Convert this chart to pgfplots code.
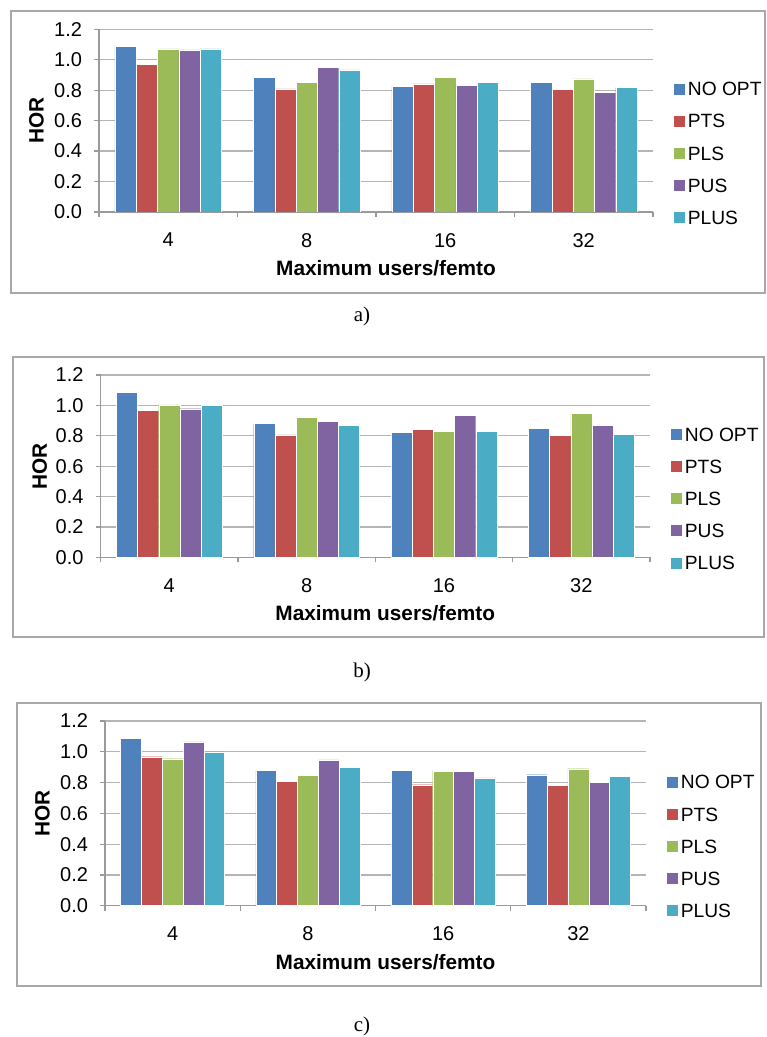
\documentclass[border=0pt]{standalone}
\usepackage{pgfplots}
\usepackage{pgfplotstable}
\pgfplotsset{compat=1.18}
\usepackage{fontspec}
\setmainfont{Liberation Sans}
\newfontfamily\seriffont{Liberation Serif}
\definecolor{c1}{HTML}{4F81BD}
\definecolor{c2}{HTML}{C0504D}
\definecolor{c3}{HTML}{9BBB59}
\definecolor{c4}{HTML}{8064A2}
\definecolor{c5}{HTML}{4BACC6}
\definecolor{gridc}{HTML}{B4B4B4}
\definecolor{axc}{HTML}{9A9A9A}
\definecolor{boxc}{HTML}{A8A8A8}

\pgfplotstableread{
x noopt pts pls pus plus
0 1.088 0.970 1.071 1.064 1.071
1 0.882 0.808 0.852 0.950 0.933
2 0.826 0.841 0.882 0.834 0.852
3 0.850 0.804 0.874 0.786 0.817
}\dataA
\pgfplotstableread{
x noopt pts pls pus plus
0 1.086 0.967 1.003 0.978 0.998
1 0.880 0.805 0.919 0.897 0.869
2 0.823 0.840 0.831 0.935 0.829
3 0.847 0.801 0.946 0.867 0.810
}\dataB
\pgfplotstableread{
x noopt pts pls pus plus
0 1.087 0.968 0.955 1.064 0.999
1 0.879 0.808 0.849 0.947 0.901
2 0.879 0.786 0.875 0.873 0.830
3 0.851 0.784 0.890 0.801 0.840
}\dataC

\pgfplotsset{
  horstyle/.style={
    scale only axis,
    ybar, bar width=0.154,
    ymin=0, ymax=1.2,
    ytick={0,0.2,0.4,0.6,0.8,1.0,1.2},
    y tick label style={/pgf/number format/fixed, /pgf/number format/fixed zerofill, /pgf/number format/precision=1},
    /pgf/number format/assume math mode=true,
    xmin=-0.5, xmax=3.5,
    xtick={-0.5,0.5,1.5,2.5,3.5},
    x tick label as interval,
    xticklabels={4,8,16,32},
    axis x line*=bottom, axis y line*=left,
    axis line style={axc, line width=0.6pt},
    ymajorgrids, grid style={gridc, line width=0.6pt},
    major tick length=2.5pt, tick align=outside,
    tick style={axc, line width=0.6pt},
    ticklabel style={font=\fontsize{10}{12}\selectfont},
    yticklabel style={xshift=-2.5pt},
    xticklabel style={yshift=-4.5pt},
    xlabel={Maximum users/femto},
    ylabel={HOR},
    label style={font=\fontsize{10.4}{12}\selectfont\bfseries},
    xlabel style={at={(axis description cs:0.5,0)}, anchor=center, xshift=5pt, yshift=-28pt},
    legend style={draw=none, fill=none, at={(axis description cs:1,0.322)}, anchor=west, xshift=9.75pt,
      inner sep=0pt, outer sep=0pt, font=\fontsize{9.6}{11}\selectfont, row sep=6.15pt,
      nodes={inner sep=1.5pt, text height=6.9pt, text depth=0pt}},
    legend cell align=left,
    legend image code/.code={\fill[##1] (0pt,-3pt) rectangle (6pt,3pt);},
  },
  barA/.style={fill=c1, draw=white, line width=0.2pt, bar shift=-0.308},
  barB/.style={fill=c2, draw=white, line width=0.2pt, bar shift=-0.154},
  barC/.style={fill=c3, draw=white, line width=0.2pt, bar shift=0},
  barD/.style={fill=c4, draw=white, line width=0.2pt, bar shift=0.154},
  barE/.style={fill=c5, draw=white, line width=0.2pt, bar shift=0.308},
}

\begin{document}
\begin{tikzpicture}
\useasboundingbox (0pt,0pt) rectangle (383pt,518.5pt);
\draw[boxc, line width=0.6pt] (5.5pt,372pt) rectangle (382.5pt,513pt);
\draw[boxc, line width=0.6pt] (6.5pt,200pt) rectangle (382pt,340pt);
\draw[boxc, line width=0.6pt] (8.5pt,25.5pt) rectangle (380.5pt,167pt);

\begin{axis}[horstyle, at={(49.5pt,412.5pt)}, anchor=south west, width=277pt, height=91.35pt,
  ylabel style={at={(axis description cs:-0.113,0.5)}, anchor=center}]
\addplot[barA] table[x=x,y=noopt] {\dataA};
\addplot[barB] table[x=x,y=pts] {\dataA};
\addplot[barC] table[x=x,y=pls] {\dataA};
\addplot[barD] table[x=x,y=pus] {\dataA};
\addplot[barE] table[x=x,y=plus] {\dataA};
\legend{NO OPT,PTS,PLS,PUS,PLUS}
\end{axis}

\begin{axis}[horstyle, at={(50.3pt,239.85pt)}, anchor=south west, width=274.7pt, height=91.15pt,
  ylabel style={at={(axis description cs:-0.111,0.5)}, anchor=center}]
\addplot[barA] table[x=x,y=noopt] {\dataB};
\addplot[barB] table[x=x,y=pts] {\dataB};
\addplot[barC] table[x=x,y=pls] {\dataB};
\addplot[barD] table[x=x,y=pus] {\dataB};
\addplot[barE] table[x=x,y=plus] {\dataB};
\legend{NO OPT,PTS,PLS,PUS,PLUS}
\end{axis}

\begin{axis}[horstyle, at={(52.5pt,65.65pt)}, anchor=south west, width=270.5pt, height=92.35pt,
  ylabel style={at={(axis description cs:-0.1155,0.5)}, anchor=center}]
\addplot[barA] table[x=x,y=noopt] {\dataC};
\addplot[barB] table[x=x,y=pts] {\dataC};
\addplot[barC] table[x=x,y=pls] {\dataC};
\addplot[barD] table[x=x,y=pus] {\dataC};
\addplot[barE] table[x=x,y=plus] {\dataC};
\legend{NO OPT,PTS,PLS,PUS,PLUS}
\end{axis}

\node[font=\seriffont\fontsize{10.5}{12}\selectfont] at (181pt,360.5pt) {a)};
\node[font=\seriffont\fontsize{10.5}{12}\selectfont] at (181pt,182.5pt) {b)};
\node[font=\seriffont\fontsize{10.5}{12}\selectfont] at (181pt,5.5pt) {c)};
\end{tikzpicture}
\end{document}
